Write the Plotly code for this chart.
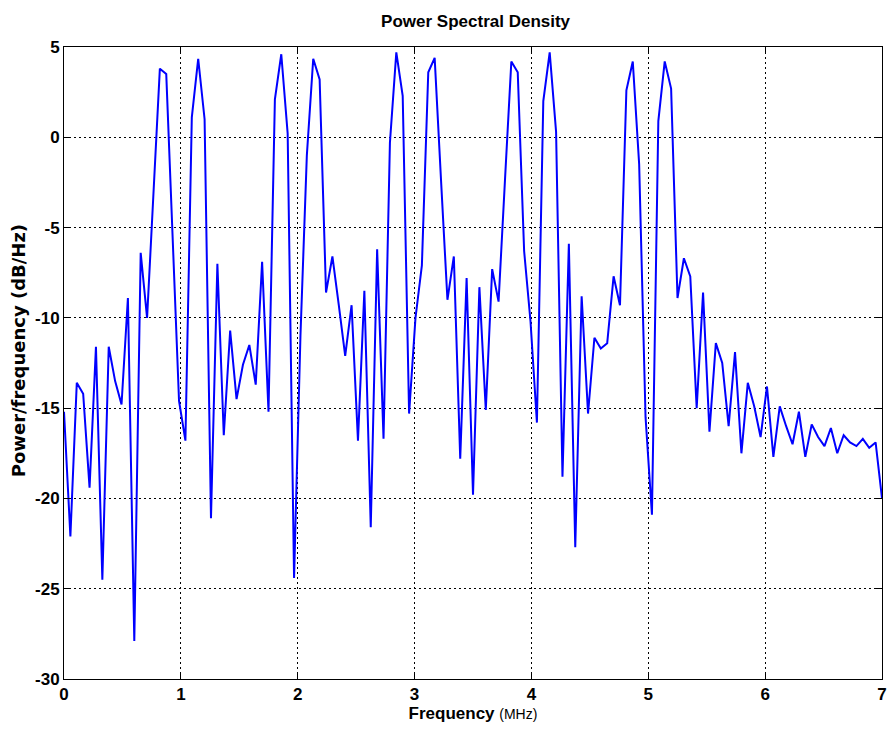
import numpy as np
import plotly.graph_objects as go

# PSD values (dB/Hz), 129 frequency bins spanning 0..7 MHz
psd_db = [
    -15.2, -22.1, -13.6, -14.2, -19.4, -11.6, -24.5, -11.6, -13.5, -14.8,
    -8.9, -27.9, -6.4, -10.0, -3.1, 3.8, 3.5, -5.5, -14.6, -16.8,
    1.1, 4.35, 1.0, -21.1, -7.0, -16.5, -10.7, -14.5, -12.6, -11.5,
    -13.7, -6.9, -15.2, 2.1, 4.6, 0.2, -24.4, -11.0, -1.0, 4.35,
    3.2, -8.6, -6.6, -9.3, -12.1, -9.3, -16.8, -8.5, -21.6, -6.2,
    -16.7, -0.3, 4.7, 2.3, -15.3, -10.0, -7.1, 3.6, 4.4, -2.4,
    -9.0, -6.6, -17.8, -7.8, -19.8, -8.3, -15.1, -7.3, -9.1, -2.4,
    4.2, 3.6, -6.3, -10.2, -15.8, 2.0, 4.7, 0.3, -18.8, -5.9,
    -22.7, -8.8, -15.3, -11.1, -11.7, -11.4, -7.7, -9.3, 2.6, 4.2,
    -1.5, -15.5, -20.9, 0.9, 4.2, 2.7, -8.9, -6.7, -7.7, -15.0,
    -8.6, -16.3, -11.4, -12.5, -16.0, -11.9, -17.5, -13.6, -14.9, -16.6,
    -13.8, -17.7, -14.9, -16.0, -17.0, -15.2, -17.7, -15.9, -16.6, -17.1,
    -16.1, -17.5, -16.5, -16.9, -17.1, -16.7, -17.2, -16.9, -20.0,
]
freq_mhz = np.linspace(0, 7, len(psd_db))

x_ticks = [0, 1, 2, 3, 4, 5, 6, 7]
y_ticks = [5, 0, -5, -10, -15, -20, -25, -30]

title_text = "Power Spectral Density"
x_label = "<b>Frequency</b> <span style='font-size:14px'>(MHz)</span>"
y_label = "Power/frequency (dB/Hz)"

sans = "Liberation Sans, Arial, sans-serif"

fig = go.Figure()
fig.add_trace(go.Scatter(
    x=freq_mhz, y=psd_db, mode="lines",
    line=dict(color="#0000ff", width=2),
    showlegend=False,
))

axis_common = dict(
    showline=True, linecolor="black", linewidth=1, mirror="ticks",
    ticks="inside", ticklen=6, tickcolor="black",
    showgrid=True, gridcolor="black", gridwidth=1, griddash="2px,3px",
    zeroline=False,
    tickfont=dict(family=sans, size=17, color="black", weight="bold"),
)

fig.update_layout(
    width=894, height=740,
    paper_bgcolor="white", plot_bgcolor="white",
    margin=dict(l=64, r=7, t=47, b=61),
    title=dict(
        text=title_text, x=0.532, xanchor="center", y=0.972, yanchor="middle",
        font=dict(family=sans, size=17, color="black", weight="bold"),
    ),
    xaxis=dict(
        range=[0, 7], tickvals=x_ticks, ticktext=[str(v) for v in x_ticks],
        title=dict(text=x_label, standoff=2,
                   font=dict(family=sans, size=17, color="black")),
        **axis_common,
    ),
    yaxis=dict(
        range=[-30, 5], tickvals=y_ticks, ticktext=[str(v) for v in y_ticks],
        **axis_common,
    ),
    annotations=[dict(
        text=y_label, textangle=-90, showarrow=False,
        xref="paper", yref="paper", x=-0.0547, y=0.519,
        xanchor="center", yanchor="middle",
        font=dict(family="DejaVu Sans, sans-serif", size=18,
                  color="black", weight="bold"),
    )],
)

fig.write_html("out.html")
